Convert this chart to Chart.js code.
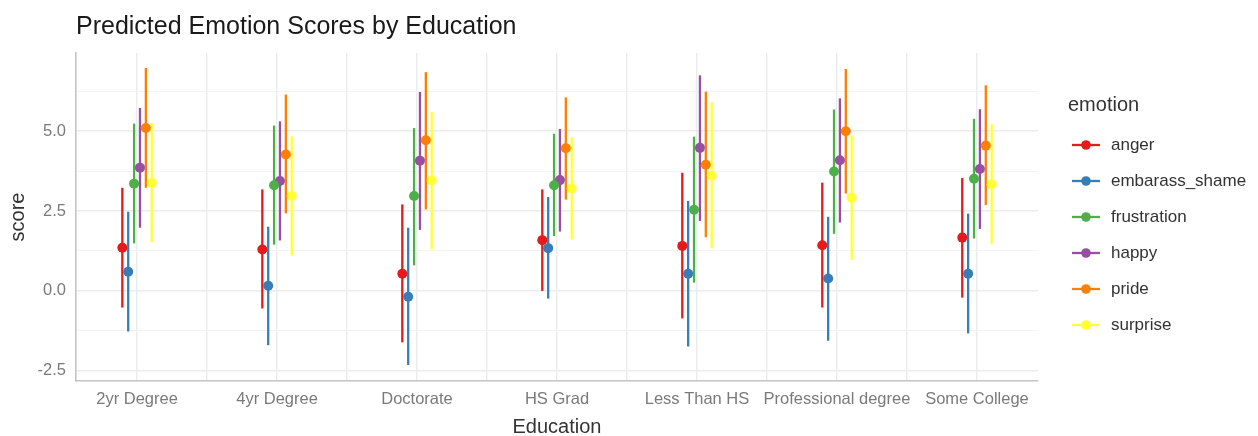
<!DOCTYPE html>
<html>
<head>
<meta charset="utf-8">
<script src="https://cdn.jsdelivr.net/npm/chart.js@4.4.1/dist/chart.umd.min.js"></script>
<style>
  html, body { margin: 0; padding: 0; background: #fff; }
</style>
</head>
<body>
<canvas id="emotion-chart" width="1258" height="436"></canvas>
<script>
const educationLevels = ['2yr Degree', '4yr Degree', 'Doctorate', 'HS Grad', 'Less Than HS', 'Professional degree', 'Some College'];
const emotions = ['anger', 'embarass_shame', 'frustration', 'happy', 'pride', 'surprise'];
const emotionColors = ['#E41A1C', '#377EB8', '#4DAF4A', '#984EA3', '#FF7F00', '#FFFF33'];
const yTicks = [-2.5, 0, 2.5, 5];

// predicted score plus lower / upper bound, one value per education level
const angerFit = [1.35, 1.30, 0.54, 1.59, 1.41, 1.43, 1.67];
const angerLow = [-0.52, -0.55, -1.61, 0.00, -0.86, -0.52, -0.21];
const angerHigh = [3.23, 3.18, 2.71, 3.18, 3.70, 3.39, 3.54];

const shameFit = [0.60, 0.16, -0.18, 1.34, 0.54, 0.39, 0.54];
const shameLow = [-1.27, -1.70, -2.32, -0.24, -1.74, -1.56, -1.33];
const shameHigh = [2.48, 2.01, 1.98, 2.94, 2.82, 2.32, 2.42];

const frustrationFit = [3.36, 3.31, 2.97, 3.31, 2.54, 3.74, 3.51];
const frustrationLow = [1.49, 1.45, 0.80, 1.72, 0.26, 1.79, 1.64];
const frustrationHigh = [5.24, 5.18, 5.10, 4.92, 4.83, 5.68, 5.39];

const happyFit = [3.86, 3.44, 4.08, 3.47, 4.48, 4.09, 3.82];
const happyLow = [1.98, 1.58, 1.91, 1.86, 2.19, 2.14, 1.94];
const happyHigh = [5.73, 5.31, 6.23, 5.07, 6.75, 6.03, 5.69];

const prideFit = [5.10, 4.27, 4.72, 4.47, 3.95, 5.00, 4.55];
const prideLow = [3.23, 2.43, 2.55, 2.86, 1.68, 3.05, 2.69];
const prideHigh = [6.98, 6.15, 6.85, 6.06, 6.24, 6.95, 6.44];

const surpriseFit = [3.39, 2.97, 3.46, 3.21, 3.61, 2.92, 3.34];
const surpriseLow = [1.53, 1.11, 1.30, 1.61, 1.33, 0.97, 1.48];
const surpriseHigh = [5.26, 4.84, 5.60, 4.81, 5.91, 4.86, 5.22];

const fits = [angerFit, shameFit, frustrationFit, happyFit, prideFit, surpriseFit];
const lows = [angerLow, shameLow, frustrationLow, happyLow, prideLow, surpriseLow];
const highs = [angerHigh, shameHigh, frustrationHigh, happyHigh, prideHigh, surpriseHigh];

const FONT = "'Liberation Sans', Arial, sans-serif";
Chart.defaults.font.family = FONT;

const dodge = 0.042;

const datasets = emotions.map((name, i) => ({
  label: name,
  data: educationLevels.map((_, j) => ({ x: j + 1 + (i - 2.5) * dodge, y: fits[i][j] })),
  lower: lows[i],
  upper: highs[i],
  backgroundColor: emotionColors[i],
  borderColor: emotionColors[i],
  pointRadius: 5,
  pointBorderWidth: 0,
  pointHoverRadius: 5,
}));

// vertical interval lines drawn under the points
const errorBars = {
  id: 'errorBars',
  beforeDatasetsDraw(chart) {
    const { ctx, scales: { x, y } } = chart;
    ctx.save();
    ctx.lineWidth = 2.3;
    chart.data.datasets.forEach((ds) => {
      ctx.strokeStyle = ds.borderColor;
      ds.data.forEach((pt, j) => {
        const px = x.getPixelForValue(pt.x);
        ctx.beginPath();
        ctx.moveTo(px, y.getPixelForValue(ds.lower[j]));
        ctx.lineTo(px, y.getPixelForValue(ds.upper[j]));
        ctx.stroke();
      });
    });
    ctx.restore();
  }
};

// ggplot style key on the right: title, then a line-with-dot per emotion
const emotionKey = {
  id: 'emotionKey',
  afterDraw(chart) {
    const { ctx, chartArea } = chart;
    const left = chartArea.right + 30;
    const top = chartArea.top;
    ctx.save();
    ctx.textBaseline = 'middle';
    ctx.textAlign = 'left';
    ctx.fillStyle = '#333';
    ctx.font = '20px ' + FONT;
    ctx.fillText('emotion', left, top + 52);
    ctx.font = '17px ' + FONT;
    chart.data.datasets.forEach((ds, i) => {
      const cy = top + 92 + i * 36;
      ctx.strokeStyle = ds.borderColor;
      ctx.fillStyle = ds.borderColor;
      ctx.lineWidth = 2.3;
      ctx.beginPath();
      ctx.moveTo(left + 4, cy);
      ctx.lineTo(left + 32, cy);
      ctx.stroke();
      ctx.beginPath();
      ctx.arc(left + 18, cy, 4.8, 0, Math.PI * 2);
      ctx.fill();
      ctx.fillStyle = '#333';
      ctx.fillText(ds.label, left + 43, cy);
    });
    ctx.restore();
  }
};

const isMajor = (v) => yTicks.some((t) => Math.abs(t - v) < 1e-6);

new Chart(document.getElementById('emotion-chart'), {
  type: 'scatter',
  data: { datasets },
  plugins: [errorBars, emotionKey],
  options: {
    responsive: false,
    animation: false,
    devicePixelRatio: 1,
    layout: { padding: { left: 6, right: 220, top: 0, bottom: 0 } },
    plugins: {
      tooltip: { enabled: false },
      legend: { display: false },
      title: {
        display: true,
        text: 'Predicted Emotion Scores by Education',
        align: 'start',
        fullSize: false,
        color: '#1a1a1a',
        font: { size: 25, weight: 'normal' },
        padding: { top: 12, bottom: 11 }
      }
    },
    scales: {
      x: {
        type: 'linear',
        min: 0.564,
        max: 7.436,
        afterFit: (scale) => { scale.height = 55; },
        title: { display: true, text: 'Education', color: '#333', font: { size: 20 }, padding: { top: 4, bottom: -3 } },
        border: { display: true, color: '#c4c4c4', width: 1.6 },
        grid: { color: '#ebebeb', lineWidth: 1.4, drawTicks: false },
        ticks: {
          stepSize: 0.5,
          includeBounds: false,
          autoSkip: false,
          maxRotation: 0,
          padding: 9,
          color: '#7a7a7a',
          font: { size: 16.5 },
          callback: (v) => Number.isInteger(v) ? educationLevels[v - 1] : ''
        }
      },
      y: {
        min: -2.82,
        max: 7.45,
        afterFit: (scale) => { scale.width = 70; },
        title: { display: true, text: 'score', color: '#333', font: { size: 20 }, padding: { top: 0, bottom: 4 } },
        border: { display: true, color: '#c4c4c4', width: 1.6 },
        grid: {
          drawTicks: false,
          color: (c) => isMajor(c.tick.value) ? '#ebebeb' : '#f3f3f3',
          lineWidth: (c) => isMajor(c.tick.value) ? 1.6 : 1.1
        },
        ticks: {
          stepSize: 1.25,
          includeBounds: false,
          padding: 10,
          color: '#7a7a7a',
          font: { size: 16.5 },
          callback: (v) => isMajor(v) ? v.toFixed(1) : ''
        }
      }
    }
  }
});
</script>
</body>
</html>
